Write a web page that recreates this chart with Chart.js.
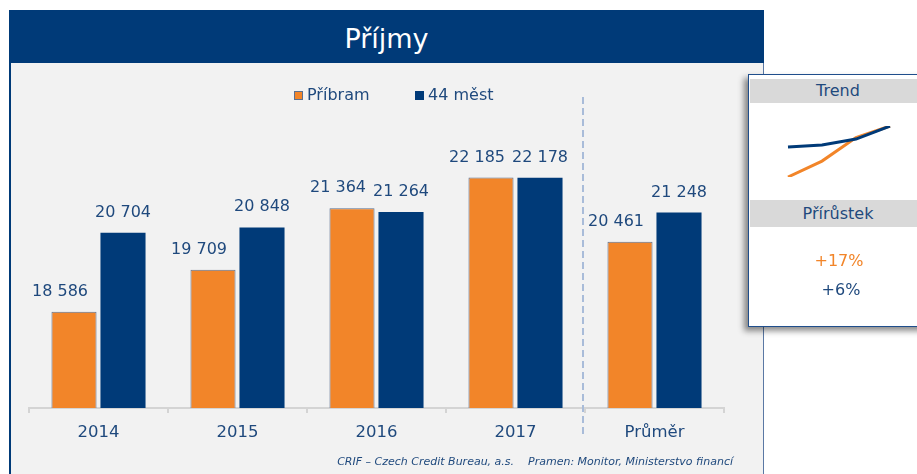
<!DOCTYPE html>
<html>
<head>
<meta charset="utf-8">
<script src="https://cdn.jsdelivr.net/npm/chart.js@4/dist/chart.umd.min.js"></script>
<style>
  html, body { margin:0; padding:0; background:#fff; width:917px; height:474px; overflow:hidden; font-family:"DejaVu Sans", Verdana, sans-serif; }
  .abs { position:absolute; }
  #titlebar { left:9px; top:10px; width:755px; height:53px; background:#003A78; color:#fff; font-size:27px; text-align:center; line-height:53px; box-sizing:border-box; padding-top:2px; }
  #panel { left:9px; top:63px; width:755px; height:420px; background:#F2F2F2; border-left:2px solid #003A78; border-right:1px solid #5a78a4; box-sizing:border-box; }
  #main { left:10px; top:63px; }
  .leg { font-size:16px; color:#1F497D; line-height:20px; top:85px; white-space:nowrap; }
  .box { width:9px; height:9px; top:91px; box-sizing:border-box; }
  #footer { top:455px; right:184px; font-size:11px; font-style:italic; color:#1F497D; white-space:pre; line-height:14px; }
  #inset { left:748px; top:74px; width:180px; height:253px; background:#fff; border:1px solid #1F4E8C; box-sizing:border-box; box-shadow:-4px 4px 6px rgba(0,0,0,0.45); }
  .band { left:1px; width:176px; background:#D9D9D9; color:#1F497D; font-size:16px; text-align:center; }
  .pct { left:0; width:180px; text-align:center; font-size:16px; line-height:20px; }
  #trend { left:780px; top:118px; }
</style>
</head>
<body>
<div id="titlebar" class="abs">Příjmy</div>
<div id="panel" class="abs"></div>
<canvas id="main" class="abs" width="753" height="411"></canvas>

<div class="abs box" style="left:294px; background:#F28529; border:1px solid #5B7090;"></div>
<div class="abs leg" style="left:307px;">Příbram</div>
<div class="abs box" style="left:415px; background:#003A78;"></div>
<div class="abs leg" style="left:428px;">44 měst</div>

<div id="footer" class="abs">CRIF – Czech Credit Bureau, a.s.    Pramen: Monitor, Ministerstvo financí</div>

<div id="inset" class="abs">
  <div class="abs band" style="top:4px; height:24px; line-height:24px;">Trend</div>
  <div class="abs band" style="top:125px; height:27px; line-height:27px;">Přírůstek</div>
  <div class="abs pct" style="top:176px; color:#F28529;">+17%</div>
  <div class="abs pct" style="top:205px; left:2px; color:#1F497D;">+6%</div>
</div>
<canvas id="trend" class="abs" width="118" height="67"></canvas>

<script>
const categories = ["2014", "2015", "2016", "2017", "Průměr"];
const pribram = [18586, 19709, 21364, 22185, 20461];
const mest44  = [20704, 20848, 21264, 22178, 21248];
const seriesNames = ["Příbram", "44 měst"];
const trendYears = 4;

const ORANGE = "#F28529";
const NAVY = "#003A78";
const TEXT = "#1F497D";
const FONT = '"DejaVu Sans", Verdana, sans-serif';

function fmt(n) { return String(n).replace(/\B(?=(\d{3})+(?!\d))/g, " "); }

const valueLabels = {
  id: "valueLabels",
  afterDatasetsDraw(chart) {
    const ctx = chart.ctx;
    ctx.save();
    ctx.font = "16px " + FONT;
    ctx.fillStyle = TEXT;
    ctx.textAlign = "center";
    ctx.textBaseline = "alphabetic";
    chart.data.datasets.forEach((ds, di) => {
      const meta = chart.getDatasetMeta(di);
      meta.data.forEach((bar, i) => {
        const dx = di === 0 ? -14 : 0;
        ctx.fillText(fmt(ds.data[i]), bar.x + dx, bar.y - 16);
      });
    });
    ctx.restore();
  }
};

const divider = {
  id: "divider",
  beforeDatasetsDraw(chart) {
    const xs = chart.scales.x;
    const n = categories.length;
    const x = (xs.getPixelForValue(n - 2) + xs.getPixelForValue(n - 1)) / 2 - 2;
    const ctx = chart.ctx;
    ctx.save();
    ctx.strokeStyle = "#A9BCD9";
    ctx.lineWidth = 2;
    ctx.setLineDash([7, 4]);
    ctx.beginPath();
    ctx.moveTo(x, 34);
    ctx.lineTo(x, 374);
    ctx.stroke();
    ctx.restore();
  }
};

new Chart(document.getElementById("main"), {
  type: "bar",
  data: {
    labels: categories,
    datasets: [
      { label: seriesNames[0], data: pribram, backgroundColor: ORANGE, borderColor: "#5B7090", borderWidth: 1,
        categoryPercentage: 0.705, barPercentage: 0.92 },
      { label: seriesNames[1], data: mest44, backgroundColor: NAVY, borderColor: NAVY, borderWidth: 0,
        categoryPercentage: 0.705, barPercentage: 0.92 }
    ]
  },
  options: {
    responsive: false,
    animation: false,
    devicePixelRatio: 1,
    layout: { padding: { left: 19, right: 39, top: 47, bottom: 0 } },
    plugins: { legend: { display: false }, tooltip: { enabled: false } },
    scales: {
      x: {
        afterFit(s) { s.height = 66; },
        border: { display: true, color: "#D4D4D4", width: 2 },
        grid: { display: true, drawOnChartArea: false, drawTicks: true, tickLength: 5, color: "#D4D4D4", lineWidth: 2 },
        ticks: { color: TEXT, font: { family: FONT, size: 16.5 }, padding: 10 }
      },
      y: { display: false, min: 16000, max: 24000 }
    }
  },
  plugins: [divider, valueLabels]
});

const tP = pribram.slice(0, trendYears);
const tM = mest44.slice(0, trendYears);
const allT = tP.concat(tM);
new Chart(document.getElementById("trend"), {
  type: "line",
  data: {
    labels: categories.slice(0, trendYears),
    datasets: [
      { label: seriesNames[1], data: tM, borderColor: NAVY, borderWidth: 3, pointRadius: 0, tension: 0, fill: false },
      { label: seriesNames[0], data: tP, borderColor: ORANGE, borderWidth: 3, pointRadius: 0, tension: 0, fill: false }
    ]
  },
  options: {
    responsive: false,
    animation: false,
    devicePixelRatio: 1,
    layout: { padding: 8 },
    plugins: { legend: { display: false }, tooltip: { enabled: false } },
    scales: {
      x: { display: false },
      y: { display: false, min: Math.min(...allT), max: Math.max(...allT) }
    }
  }
});
</script>
</body>
</html>
